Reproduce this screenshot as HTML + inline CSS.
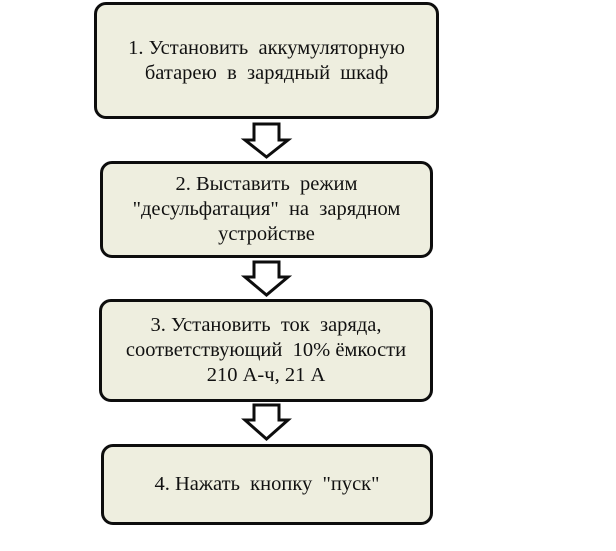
<!DOCTYPE html>
<html><head><meta charset="utf-8"><style>
html,body{margin:0;padding:0;background:#fff;width:616px;height:551px;overflow:hidden}
.b{position:absolute;box-sizing:border-box;border:3px solid #0d0d0d;border-radius:12px;background:#eeeedf;display:flex;align-items:center;justify-content:center;text-align:center;font-family:"Liberation Serif",serif;font-size:20.5px;line-height:25px;color:#111}
svg{position:absolute;left:0;top:0}
</style></head><body>
<div class="b" style="left:94px;top:2px;width:345px;height:117px">1. Установить&nbsp; аккумуляторную<br>батарею&nbsp; в&nbsp; зарядный&nbsp; шкаф</div>
<div class="b" style="left:100px;top:161px;width:333px;height:97px">2. Выставить&nbsp; режим<br>"десульфатация"&nbsp; на&nbsp; зарядном<br>устройстве</div>
<div class="b" style="left:99px;top:299px;width:334px;height:103px">3. Установить&nbsp; ток&nbsp; заряда,<br>соответствующий&nbsp; 10% ёмкости<br>210 А-ч, 21 А</div>
<div class="b" style="left:101px;top:444px;width:332px;height:81px">4. Нажать&nbsp; кнопку&nbsp; "пуск"</div>
<svg width="616" height="551">
<g fill="#fff" stroke="#0d0d0d" stroke-width="3" stroke-linejoin="miter">
<polygon points="254,124 279,124 279,140 288,140 266.5,157 245,140 254,140"/>
<polygon points="254,262 279,262 279,277 288,277 266.5,295 245,277 254,277"/>
<polygon points="254,405 279,405 279,420 288,420 266.5,439 245,420 254,420"/>
</g></svg>
</body></html>
